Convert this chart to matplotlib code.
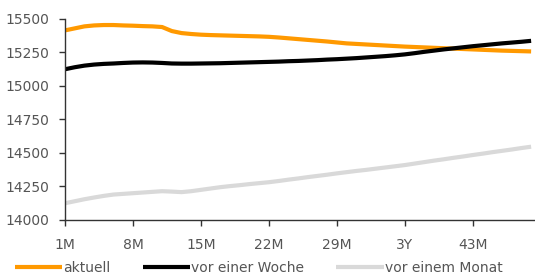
import matplotlib
matplotlib.use("Agg")
import matplotlib.pyplot as plt

months = list(range(1, 50))
tick_positions = [1, 8, 15, 22, 29, 36, 43]
tick_labels = ["1M", "8M", "15M", "22M", "29M", "3Y", "43M"]
y_ticks = [14000, 14250, 14500, 14750, 15000, 15250, 15500]

aktuell = [15415, 15430, 15445, 15452, 15455, 15455, 15452, 15450, 15447, 15445,
           15440, 15410, 15395, 15388, 15383, 15380, 15378, 15376, 15374, 15372,
           15370, 15367, 15362, 15356, 15350, 15344, 15338, 15332, 15325, 15318,
           15314, 15310, 15306, 15302, 15298, 15294, 15291, 15288, 15285, 15282,
           15279, 15276, 15273, 15270, 15267, 15264, 15262, 15260, 15258]
vor_woche = [15125, 15140, 15152, 15160, 15165, 15168, 15172, 15175, 15176, 15175,
             15172, 15168, 15167, 15167, 15168, 15169, 15170, 15172, 15174, 15176,
             15178, 15180, 15182, 15185, 15187, 15190, 15193, 15197, 15200, 15204,
             15208, 15213, 15218, 15223, 15229, 15236, 15245, 15255, 15264, 15273,
             15281, 15289, 15297, 15304, 15311, 15318, 15324, 15330, 15337]
vor_monat = [14125, 14140, 14155, 14168, 14180, 14190, 14195, 14200, 14205, 14210,
             14215, 14212, 14208, 14215, 14225, 14235, 14245, 14253, 14260, 14268,
             14275, 14282, 14291, 14301, 14310, 14320, 14329, 14338, 14348, 14357,
             14366, 14374, 14383, 14392, 14401, 14410, 14421, 14432, 14443, 14453,
             14464, 14474, 14485, 14495, 14506, 14516, 14526, 14537, 14547]

W, H = 535, 280
fig = plt.figure(figsize=(W / 100, H / 100), dpi=100)
ax = fig.add_axes([65 / W, 1 - 220 / H, 470 / W, 201 / H])

lw = 3.0
ax.plot(months, aktuell, color="#FF9900", lw=lw, label="aktuell", solid_capstyle="butt")
ax.plot(months, vor_woche, color="#000000", lw=lw, label="vor einer Woche", solid_capstyle="butt")
ax.plot(months, vor_monat, color="#D9D9D9", lw=lw, label="vor einem Monat", solid_capstyle="butt")

ax.set_xlim(1, 49.4)
ax.set_ylim(14000, 15500)
ax.set_xticks(tick_positions)
ax.set_xticklabels(tick_labels)
ax.set_yticks(y_ticks)
ax.set_yticklabels([str(v) for v in y_ticks])

for s in ["top", "right"]:
    ax.spines[s].set_visible(False)
for s in ["left", "bottom"]:
    ax.spines[s].set_color("#333333")
    ax.spines[s].set_linewidth(1.0)

ax.tick_params(axis="both", direction="out", length=4, width=1, color="#333333",
               labelsize=10, labelcolor="#555555")
ax.tick_params(axis="x", pad=9)
ax.tick_params(axis="y", pad=7)

leg = fig.legend(loc="center left", bbox_to_anchor=(15 / W, 1 - 268 / H), ncol=3,
                 frameon=False, fontsize=10, handlelength=3.4, handletextpad=0.1,
                 columnspacing=2.3, borderaxespad=0, borderpad=0)
for t in leg.get_texts():
    t.set_color("#555555")

fig.savefig("out.png", dpi=100)
